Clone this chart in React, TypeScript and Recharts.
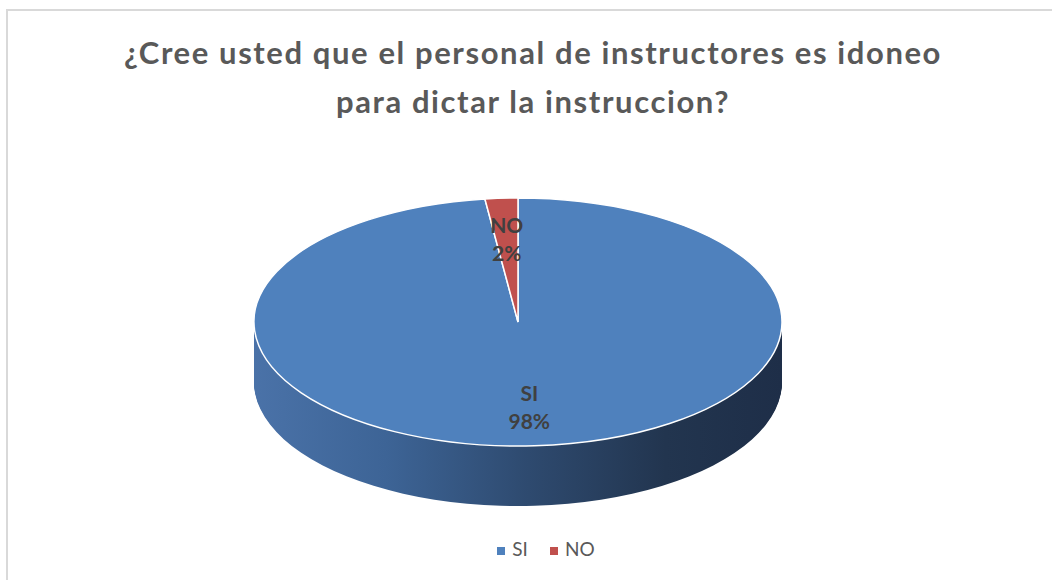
import React from 'react';
import { PieChart, Pie, Cell, Legend } from 'recharts';

const answers = ['SI', 'NO'];
const shares = [98, 2];
const COLORS = ['#4f81bd', '#c0504d'];

const data = answers.map((name, i) => ({ name, value: shares[i] }));

const CX = 518;
const CY = 322;
const RADIUS = 264;
const TILT = 124 / 264;
const DEPTH = 60;
const sideLayers = Array.from({ length: DEPTH }, (_, i) => DEPTH - i);

const RAD = Math.PI / 180;

const renderLabel = ({ cx, cy, midAngle, outerRadius, name, percent }: any) => {
  const r = outerRadius * 0.68;
  const x = cx + Math.cos(-midAngle * RAD) * r;
  const y = cy + Math.sin(-midAngle * RAD) * r * TILT;
  return (
    <text x={x} y={y} textAnchor="middle" fill="#404040" fontSize={21} fontWeight="bold" fontFamily="Lato, sans-serif">
      <tspan x={x} dy={-5}>{name}</tspan>
      <tspan x={x} dy={28}>{`${Math.round(percent * 100)}%`}</tspan>
    </text>
  );
};

const css = `
  .pie-top path.recharts-sector {
    transform-origin: ${CX}px ${CY}px;
    transform: scaleY(${TILT});
    vector-effect: non-scaling-stroke;
  }
  ${sideLayers
    .map(
      (d) => `.side-${d} path.recharts-sector { transform-origin: ${CX}px ${CY}px; transform: translateY(${d}px) scaleY(${TILT}); }`
    )
    .join('\n')}
`;

export default function App() {
  return (
    <div style={{ position: 'absolute', left: 0, top: 0, width: 1052, height: 580, overflow: 'hidden', background: '#fff' }}>
      <style>{css}</style>
      <svg width={0} height={0} style={{ position: 'absolute' }}>
        <defs>
          <linearGradient id="sideGrad" gradientUnits="userSpaceOnUse" x1={254} y1={0} x2={782} y2={0}>
            <stop offset="0%" stopColor="#4a72a8" />
            <stop offset="25%" stopColor="#3d6496" />
            <stop offset="52%" stopColor="#2e4a6f" />
            <stop offset="78%" stopColor="#22354f" />
            <stop offset="100%" stopColor="#1e2e48" />
          </linearGradient>
        </defs>
      </svg>
      <div
        style={{
          position: 'absolute',
          left: 6,
          top: 9,
          width: 1100,
          height: 620,
          border: '2px solid #d9d9d9',
          boxSizing: 'border-box',
        }}
      />
      <div
        style={{
          position: 'absolute',
          left: 6,
          width: 1054,
          top: 28,
          textAlign: 'center',
          fontFamily: 'Lato, sans-serif',
          fontWeight: 'bold',
          fontSize: 31,
          letterSpacing: 1.6,
          color: '#595959',
          lineHeight: '49px',
        }}
      >
        <div>¿Cree usted que el personal de instructores es idoneo</div>
        <div>para dictar la instruccion?</div>
      </div>
      <div style={{ position: 'absolute', left: 0, top: 0 }}>
        <PieChart width={1052} height={580} margin={{ top: 0, right: 0, bottom: 0, left: 0 }}>
          {sideLayers.map((d) => (
            <Pie
              key={d}
              className={`side-${d}`}
              data={data}
              dataKey="value"
              nameKey="name"
              cx={CX}
              cy={CY}
              outerRadius={RADIUS}
              startAngle={90}
              endAngle={-270}
              stroke="none"
              legendType="none"
              isAnimationActive={false}
            >
              {data.map((entry, index) => (
                <Cell key={`side-${d}-${index}`} fill="url(#sideGrad)" />
              ))}
            </Pie>
          ))}
          <Pie
            className="pie-top"
            data={data}
            dataKey="value"
            nameKey="name"
            cx={CX}
            cy={CY}
            outerRadius={RADIUS}
            startAngle={90}
            endAngle={-270}
            stroke="#ffffff"
            strokeWidth={1.5}
            labelLine={false}
            label={renderLabel}
            legendType="square"
            isAnimationActive={false}
          >
            {data.map((entry, index) => (
              <Cell key={`cell-${index}`} fill={COLORS[index % COLORS.length]} />
            ))}
          </Pie>
          <Legend
            verticalAlign="bottom"
            iconType="square"
            iconSize={8}
            itemSorter={(item: any) => answers.indexOf(item.value)}
            wrapperStyle={{ left: 314, width: 486, bottom: 20, fontFamily: 'Lato, sans-serif', fontSize: 19 }}
            formatter={(value: any) => <span style={{ color: '#595959', marginLeft: 3, marginRight: 12 }}>{value}</span>}
          />
        </PieChart>
      </div>
    </div>
  );
}
